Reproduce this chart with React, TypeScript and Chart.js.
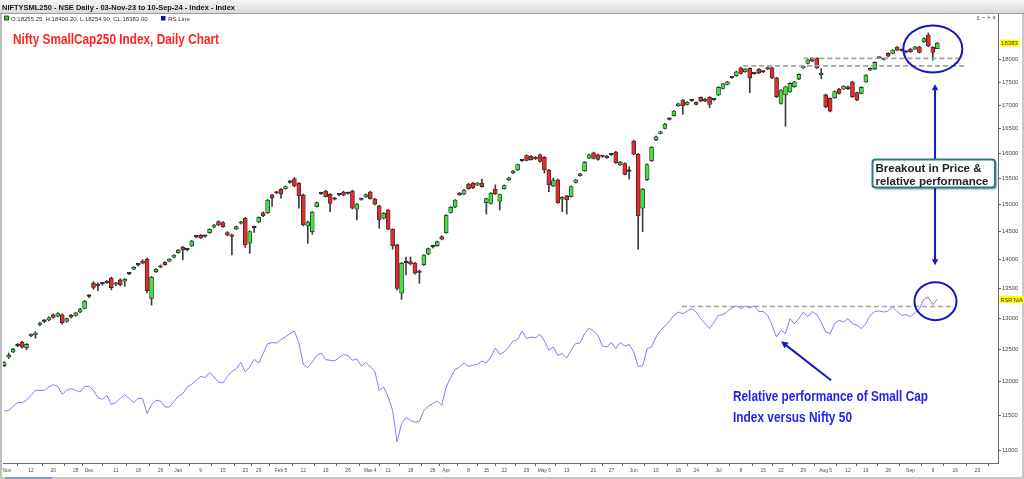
import React, { useEffect, useRef } from 'react';
import { Chart, registerables } from 'chart.js';

Chart.register(...registerables);

// ---------- data (one entry per trading session, 03-Nov-23 .. 10-Sep-24) ----------
const openPrices = [
  12245, 12375, 12456, 12555, 12610, 12525, 12715, 12730, 12895, 12945,
  12970, 13052, 13031, 13052, 12948, 13047, 13042, 13102, 13160, 13360,
  13588, 13571, 13575, 13611, 13670, 13566, 13640, 13618, 13745, 13825,
  13900, 13970, 14000, 13328, 13780, 13883, 13948, 13965, 14036, 14117,
  14213, 14170, 14237, 14400, 14430, 14410, 14478, 14576, 14680, 14661,
  14478, 14430, 14545, 14650, 14742, 14285, 14565, 14673, 14845, 14845,
  15182, 15220, 15292, 15303, 15425, 15494, 15408, 15182, 14600, 14496,
  14960, 15205, 15258, 15196, 15100, 15185, 15239, 15210, 15258, 14910,
  15095, 15145, 15239, 15105, 14973, 14742, 14897, 14539, 14255, 13414,
  13935, 13958, 13930, 13796, 13902, 14094, 14220, 14243, 14405, 14478,
  14852, 14949, 15214, 15195, 15390, 15410, 15370, 15410, 15035, 15019,
  15292, 15061, 15303, 15474, 15609, 15666, 15850, 15955, 15940, 15915,
  15970, 15920, 15666, 15356, 15474, 15099, 15163, 15150, 15421, 15556,
  15653, 15903, 16010, 15970, 15935, 15943, 15970, 16024, 15770, 15796,
  15640, 16249, 15981, 14929, 15474, 15850, 16269, 16406, 16511, 16700,
  16776, 16988, 17109, 17017, 17095, 17060, 17167, 17130, 17167, 17115,
  17221, 17363, 17450, 17600, 17642, 17820, 17731, 17806, 17690, 17791,
  17725, 17820, 17820, 17596, 17036, 17221, 17288, 17400, 17569, 17820,
  17918, 18032, 18032, 17665, 17221, 17146, 17163, 17348, 17348, 17400,
  17507, 17273, 17256, 17507, 17768, 17791, 18040, 18010, 18146, 18146,
  18291, 18215, 18175, 18245, 18245, 18298, 18411, 18570, 18284, 18255.25,
];

const highPrices = [
  12305, 12440, 12515, 12590, 12625, 12590, 12745, 12780, 12935, 12975,
  13020, 13070, 13090, 13070, 13000, 13060, 13095, 13160, 13290, 13390,
  13610, 13590, 13600, 13630, 13690, 13600, 13660, 13665, 13770, 13870,
  13925, 13990, 14020, 13700, 13835, 13900, 13960, 14010, 14085, 14175,
  14230, 14195, 14340, 14425, 14445, 14435, 14550, 14630, 14695, 14680,
  14495, 14450, 14600, 14685, 14760, 14510, 14600, 14770, 14860, 15095,
  15195, 15245, 15305, 15355, 15460, 15520, 15420, 15200, 14690, 14870,
  15045, 15235, 15270, 15210, 15135, 15210, 15255, 15235, 15275, 15020,
  15120, 15200, 15255, 15120, 14985, 14850, 14910, 14550, 14270, 13945,
  14040, 14040, 13945, 13810, 14085, 14200, 14250, 14325, 14420, 14810,
  14960, 15095, 15230, 15290, 15405, 15425, 15420, 15490, 15120, 15225,
  15375, 15200, 15375, 15525, 15660, 15785, 15875, 15970, 15955, 15935,
  15985, 15935, 15680, 15510, 15490, 15150, 15175, 15355, 15485, 15600,
  15835, 15985, 16025, 15985, 15960, 15955, 15995, 16040, 15835, 15810,
  15730, 16270, 16000, 15305, 15790, 16135, 16350, 16455, 16615, 16730,
  16885, 17045, 17125, 17075, 17125, 17075, 17180, 17145, 17185, 17140,
  17400, 17475, 17520, 17625, 17745, 17835, 17805, 17820, 17715, 17805,
  17750, 17840, 17835, 17610, 17340, 17415, 17485, 17520, 17685, 17865,
  18015, 18050, 18045, 17805, 17240, 17160, 17310, 17365, 17425, 17415,
  17520, 17285, 17400, 17670, 17820, 17955, 18065, 18035, 18160, 18235,
  18305, 18240, 18200, 18260, 18310, 18310, 18505, 18620, 18300, 18400.2,
];

const lowPrices = [
  12230, 12355, 12445, 12540, 12515, 12490, 12700, 12675, 12875, 12925,
  12955, 13000, 13020, 12900, 12930, 13000, 13030, 13090, 13150, 13340,
  13480, 13455, 13550, 13580, 13470, 13540, 13540, 13530, 13730, 13815,
  13885, 13920, 13420, 13215, 13770, 13850, 13895, 13955, 14025, 14105,
  13990, 14150, 14225, 14385, 14370, 14395, 14465, 14565, 14605, 14575,
  14420, 14075, 14530, 14635, 14213, 14105, 14480, 14660, 14770, 14830,
  14970, 15205, 15118, 15290, 15410, 15340, 14930, 14600, 14285, 14450,
  14950, 15190, 15140, 14865, 15085, 15165, 15165, 15195, 14915, 14710,
  15080, 15135, 15100, 14990, 14557, 14730, 14530, 14177, 13465, 13310,
  13727, 13900, 13740, 13583, 13890, 14080, 14200, 14230, 14345, 14465,
  14840, 14940, 15175, 15185, 15290, 15300, 15360, 15330, 14822, 15005,
  15190, 14897, 15290, 15460, 15595, 15655, 15835, 15845, 15860, 15875,
  15820, 15610, 15245, 15340, 15020, 14865, 14822, 15140, 15410, 15545,
  15640, 15890, 15885, 15860, 15920, 15895, 15955, 15795, 15755, 15570,
  15490, 15970, 14177, 14496, 15460, 15835, 16255, 16395, 16500, 16685,
  16765, 16975, 16805, 17005, 17080, 17005, 17075, 17075, 16946, 17100,
  17205, 17350, 17440, 17585, 17630, 17680, 17720, 17269, 17675, 17690,
  17710, 17780, 17580, 17165, 17020, 16554, 17275, 17385, 17555, 17805,
  17905, 17960, 17805, 17580, 16940, 16855, 17150, 17240, 17335, 17335,
  17165, 17095, 17240, 17495, 17755, 17780, 18025, 17995, 18070, 18135,
  18210, 18200, 18160, 18170, 18235, 18155, 18400, 18300, 17993, 18254.9,
];

const closePrices = [
  12290, 12405, 12500, 12565, 12530, 12575, 12730, 12762, 12910, 12955,
  13010, 13010, 13075, 12926, 12990, 13015, 13086, 13147, 13278, 13370,
  13514, 13537, 13585, 13594, 13508, 13583, 13554, 13652, 13758, 13860,
  13910, 13930, 13457, 13687, 13825, 13860, 13906, 14000, 14076, 14165,
  14165, 14180, 14326, 14410, 14381, 14420, 14539, 14618, 14618, 14587,
  14430, 14410, 14587, 14668, 14255, 14496, 14575, 14760, 14785, 15086,
  15118, 15230, 15201, 15343, 15435, 15356, 15163, 14617, 14673, 14858,
  15035, 15215, 15150, 15019, 15112, 15192, 15176, 15216, 14929, 15010,
  15100, 15190, 15111, 15005, 14710, 14835, 14539, 14243, 13497, 13930,
  13945, 13919, 13757, 13768, 14076, 14188, 14228, 14314, 14357, 14797,
  14949, 15086, 15188, 15277, 15303, 15316, 15410, 15343, 15111, 15214,
  15201, 15188, 15363, 15514, 15648, 15775, 15860, 15855, 15870, 15890,
  15835, 15666, 15374, 15461, 15035, 15137, 15086, 15343, 15474, 15589,
  15822, 15970, 15897, 15876, 15945, 15910, 15980, 15810, 15822, 15582,
  15650, 15981, 14785, 15292, 15775, 16120, 16337, 16440, 16602, 16710,
  16874, 17030, 16988, 17060, 17105, 17017, 17088, 17088, 17017, 17128,
  17385, 17463, 17507, 17610, 17731, 17695, 17791, 17596, 17700, 17702,
  17735, 17791, 17596, 17180, 17326, 17400, 17472, 17507, 17672, 17852,
  18000, 17970, 17820, 17680, 16962, 16874, 17296, 17256, 17414, 17355,
  17180, 17109, 17385, 17657, 17806, 17941, 18050, 18020, 18084, 18222,
  18222, 18225, 18185, 18183, 18298, 18169, 18490, 18320, 18169, 18383,
];

// relative-strength line, drawn in the price pane's units
const rsLine = [
  11563, 11573, 11632, 11686, 11686, 11720, 11794, 11869, 11869, 11869,
  11918, 11954, 11928, 11808, 11869, 11894, 11869, 11844, 11928, 11928,
  11869, 11756, 11736, 11794, 11657, 11690, 11750, 11804, 11747, 11686,
  11750, 11747, 11526, 11660, 11720, 11710, 11622, 11622, 11700, 11780,
  11820, 11918, 11960, 12018, 12079, 12060, 12141, 12070, 11990, 11980,
  12079, 12156, 12197, 12295, 12146, 12223, 12341, 12285, 12431, 12589,
  12605, 12598, 12652, 12694, 12748, 12790, 12598, 12264, 12213, 12300,
  12404, 12440, 12336, 12326, 12316, 12367, 12416, 12400, 12326, 12352,
  12234, 12295, 12223, 12161, 11869, 11918, 11770, 11573, 11119, 11380,
  11466, 11427, 11402, 11412, 11573, 11632, 11672, 11710, 11647, 11918,
  12060, 12182, 12223, 12285, 12234, 12249, 12264, 12316, 12285, 12378,
  12517, 12421, 12457, 12535, 12630, 12652, 12790, 12668, 12694, 12684,
  12738, 12630, 12483, 12535, 12404, 12431, 12362, 12483, 12589, 12598,
  12748, 12834, 12790, 12722, 12546, 12535, 12605, 12508, 12605, 12550,
  12576, 12457, 12234, 12240, 12508, 12535, 12694, 12800, 12870, 12950,
  13046, 13099, 13072, 13117, 13156, 13099, 12991, 12910, 12829, 12935,
  13046, 13056, 13108, 13166, 13200, 13156, 13200, 13166, 13200, 13108,
  13108, 13046, 12883, 12694, 12801, 12748, 12991, 12910, 12991, 13099,
  13020, 13108, 13056, 12935, 12774, 12748, 12910, 12964, 12935, 12991,
  12910, 12883, 12829, 12910, 13046, 13108, 13117, 13099, 13117, 13183,
  13108, 13046, 13056, 13020, 13090, 13156, 13311, 13350, 13222, 13311,
];

// x-axis: session index -> label
const xTickIndex = [0, 6, 11, 16, 19, 25, 30, 35, 39, 44, 49, 54, 57, 62, 67, 72, 77, 82, 86, 91, 96, 99, 104, 108, 112, 117, 121, 126, 132, 136, 141, 146, 151, 155, 160, 165, 170, 174, 179, 184, 189, 193, 198, 203, 208, 213, 218];
const xTickLabels = ['Nov', '12', '20', '28', 'Dec', '11', '18', '26', 'Jan', '9', '15', '23', '29', 'Feb 5', '12', '19', '26', 'Mar 4', '11', '18', '26', 'Apr', '8', '15', '22', '29', 'May 6', '13', '21', '27', 'Jun', '10', '18', '24', 'Jul', '8', '15', '22', '29', 'Aug 5', '12', '19', '26', 'Sep', '9', '16', '23'];
const yTickValues = [11000, 11500, 12000, 12500, 13000, 13500, 14000, 14500, 15000, 15500, 16000, 16500, 17000, 17500, 18000];

// annotation anchors (session index / value)
const priceLevels = [
  { value: 18032, from: 179.0, to: 214.7 },
  { value: 17864, from: 165.5, to: 215.0 },
];
const rsLevels = [{ value: 13190, from: 151.8, to: 212.6 }];
const highlightRings = [
  { at: 208.0, value: 18250, rx: 29.5, ry: 23.5 },
  { at: 208.6, value: 13280, rx: 21, ry: 19 },
];
const breakoutArrow = { at: 208.5, top: 17457, bottom: 13896 };
const rsArrow = { fromAt: 185.2, fromValue: 12020, toAt: 174.0, toValue: 12625 };

const X_MIN = -0.27;
const X_MAX = 222.6;
const Y_MIN = 10830;
const Y_MAX = 19070;

const FONT = '"Liberation Sans", Arial, Helvetica, sans-serif';

function fitText(ctx: any, text: string, x: number, y: number, w: number, font: string, color: string) {
  ctx.save();
  ctx.font = font;
  ctx.fillStyle = color;
  ctx.textAlign = 'left';
  ctx.textBaseline = 'alphabetic';
  const m = ctx.measureText(text).width || 1;
  ctx.translate(x, y);
  ctx.scale(w / m, 1);
  ctx.fillText(text, 0, 0);
  ctx.restore();
}

function arrowHead(ctx: any, x: number, y: number, ang: number, len: number, half: number) {
  ctx.beginPath();
  ctx.moveTo(x, y);
  ctx.lineTo(x - len * Math.cos(ang) + half * Math.sin(ang), y - len * Math.sin(ang) - half * Math.cos(ang));
  ctx.lineTo(x - len * Math.cos(ang) - half * Math.sin(ang), y - len * Math.sin(ang) + half * Math.cos(ang));
  ctx.closePath();
  ctx.fill();
}

const overlayPlugin = {
  id: 'overlay',
  beforeDraw(chart: any) {
    const { ctx, width, height } = chart;
    ctx.save();
    ctx.fillStyle = '#ffffff';
    ctx.fillRect(0, 0, width, height);
    ctx.restore();
  },
  afterDatasetsDraw(chart: any) {
    const { ctx } = chart;
    const xs = chart.scales.x;
    const ys = chart.scales.y;
    ctx.save();
    // dashed resistance lines
    ctx.setLineDash([5, 3]);
    ctx.strokeStyle = '#a2a2a2';
    ctx.lineWidth = 1.6;
    [...priceLevels, ...rsLevels].forEach((l) => {
      const y = ys.getPixelForValue(l.value);
      ctx.beginPath();
      ctx.moveTo(xs.getPixelForValue(l.from), y);
      ctx.lineTo(xs.getPixelForValue(l.to), y);
      ctx.stroke();
    });
    ctx.setLineDash([]);

    // rings
    ctx.strokeStyle = '#1616c8';
    ctx.lineWidth = 2;
    highlightRings.forEach((r) => {
      ctx.beginPath();
      ctx.ellipse(xs.getPixelForValue(r.at), ys.getPixelForValue(r.value), r.rx, r.ry, 0, 0, Math.PI * 2);
      ctx.stroke();
    });

    // vertical double arrow
    ctx.fillStyle = '#1616c8';
    const ax = xs.getPixelForValue(breakoutArrow.at);
    const ay1 = ys.getPixelForValue(breakoutArrow.top);
    const ay2 = ys.getPixelForValue(breakoutArrow.bottom);
    ctx.beginPath();
    ctx.moveTo(ax, ay1 + 5);
    ctx.lineTo(ax, ay2 - 5);
    ctx.stroke();
    arrowHead(ctx, ax, ay1, -Math.PI / 2, 6, 3.2);
    arrowHead(ctx, ax, ay2, Math.PI / 2, 6, 3.2);

    // diagonal arrow to RS dip
    const fx = xs.getPixelForValue(rsArrow.fromAt);
    const fy = ys.getPixelForValue(rsArrow.fromValue);
    const tx = xs.getPixelForValue(rsArrow.toAt);
    const ty = ys.getPixelForValue(rsArrow.toValue);
    const ang = Math.atan2(ty - fy, tx - fx);
    ctx.beginPath();
    ctx.moveTo(fx, fy);
    ctx.lineTo(tx - Math.cos(ang) * 5, ty - Math.sin(ang) * 5);
    ctx.stroke();
    arrowHead(ctx, tx, ty, ang, 7, 3.5);

    // breakout call-out box
    const bx = 872.5, by = 159.5, bw = 122.5, bh = 28, rr = 3;
    ctx.save();
    ctx.shadowColor = 'rgba(0,0,0,0.35)';
    ctx.shadowOffsetX = 2;
    ctx.shadowOffsetY = 2;
    ctx.shadowBlur = 2;
    ctx.beginPath();
    ctx.moveTo(bx + rr, by);
    ctx.lineTo(bx + bw - rr, by);
    ctx.quadraticCurveTo(bx + bw, by, bx + bw, by + rr);
    ctx.lineTo(bx + bw, by + bh - rr);
    ctx.quadraticCurveTo(bx + bw, by + bh, bx + bw - rr, by + bh);
    ctx.lineTo(bx + rr, by + bh);
    ctx.quadraticCurveTo(bx, by + bh, bx, by + bh - rr);
    ctx.lineTo(bx, by + rr);
    ctx.quadraticCurveTo(bx, by, bx + rr, by);
    ctx.closePath();
    ctx.fillStyle = '#ffffff';
    ctx.fill();
    ctx.restore();
    ctx.strokeStyle = '#2c7b7b';
    ctx.lineWidth = 2;
    ctx.stroke();
    fitText(ctx, 'Breakout in Price &', 875.5, 171.5, 106, `bold 11px ${FONT}`, '#222222');
    fitText(ctx, 'relative performance', 875.5, 185, 113, `bold 11px ${FONT}`, '#222222');

    // RS note
    fitText(ctx, 'Relative performance of Small Cap', 733, 401, 195, `bold 14px ${FONT}`, '#2323f0');
    fitText(ctx, 'Index versus Nifty 50', 733, 422, 119, `bold 14px ${FONT}`, '#2323f0');
    ctx.restore();
  },
  afterDraw(chart: any) {
    const { ctx, width, height } = chart;
    const xs = chart.scales.x;
    const ys = chart.scales.y;
    const n = closePrices.length;
    ctx.save();
    // title bar
    const g = ctx.createLinearGradient(0, 0, 0, 13);
    g.addColorStop(0, '#f6f6f6');
    g.addColorStop(1, '#d9d9d9');
    ctx.fillStyle = g;
    ctx.fillRect(0, 0, width, 13);
    ctx.fillStyle = '#9c9c9c';
    ctx.fillRect(0, 13, width, 1);
    fitText(ctx, 'NIFTYSML250 - NSE Daily - 03-Nov-23 to 10-Sep-24 - Index - Index', 2, 10, 233, `bold 8px ${FONT}`, '#141414');

    // frame strips
    ctx.fillStyle = '#bdbdbd';
    ctx.fillRect(0, 14, 2, height - 14);
    ctx.fillStyle = '#c8c8c8';
    ctx.fillRect(0, height - 2, width, 2);
    ctx.fillRect(width - 2, 14, 2, height - 14);
    ctx.fillStyle = '#8d9cc4';
    ctx.fillRect(5, height - 2, 47, 2);

    // x-axis labels (slightly condensed, first one kept inside the pane)
    const lf = `6px ${FONT}`;
    ctx.font = lf;
    xTickIndex.forEach((v, k) => {
      const t = xTickLabels[k];
      const w = ctx.measureText(t).width * 0.82;
      const cx = xs.getPixelForValue(v);
      const left = Math.max(2.5, cx - w / 2);
      fitText(ctx, t, left, 472.3, w, lf, '#4a4a4a');
      ctx.font = lf;
    });

    // legend row
    const fmt = (v: number) => v.toFixed(2);
    ctx.fillStyle = '#2fd12f';
    ctx.fillRect(4.5, 16, 4, 4);
    ctx.strokeStyle = '#222';
    ctx.lineWidth = 0.8;
    ctx.strokeRect(4.5, 16, 4, 4);
    fitText(ctx, `O:${fmt(openPrices[n - 1])}, H:${fmt(highPrices[n - 1])}, L:${fmt(lowPrices[n - 1])}, CL:${fmt(closePrices[n - 1])}`, 11, 20.7, 136.5, `6px ${FONT}`, '#333');
    ctx.fillStyle = '#0b0bc4';
    ctx.fillRect(161, 16, 4.5, 4.5);
    fitText(ctx, 'RS Line', 168, 20.7, 22, `6px ${FONT}`, '#333');

    // chart title
    fitText(ctx, 'Nifty SmallCap250 Index, Daily Chart', 13, 44, 206, `bold 15px ${FONT}`, '#ff2424');

    // window icons
    fitText(ctx, '\u03b5 \u2212 + \u00d7', 977, 20, 19, `7px ${FONT}`, '#444');

    // last value flags on the axis
    const yl = ys.getPixelForValue(closePrices[n - 1]);
    ctx.fillStyle = '#ffff00';
    ctx.fillRect(1000, yl - 3.5, 19.5, 7);
    fitText(ctx, String(Math.round(closePrices[n - 1])), 1001, yl + 2.2, 17, `6px ${FONT}`, '#333');
    const yr = ys.getPixelForValue(rsLine[n - 1]);
    ctx.fillStyle = '#ffff00';
    ctx.fillRect(999.5, yr - 3.5, 24.5, 7);
    fitText(ctx, 'RSR N/A', 1000.5, yr + 2.2, 22.5, `6px ${FONT}`, '#333');
    ctx.restore();
  },
};

export default function App() {
  const ref = useRef<HTMLCanvasElement | null>(null);

  useEffect(() => {
    document.body.style.margin = '0';
    const n = closePrices.length;
    const idx = Array.from({ length: n }, (_, i) => i);
    const wickData = idx.map((i) => ({ x: i, y: [lowPrices[i], highPrices[i]] }));
    const bodyData = idx.map((i) => ({ x: i, y: [Math.min(openPrices[i], closePrices[i]), Math.max(openPrices[i], closePrices[i])] }));
    const bodyColors = idx.map((i) =>
      Math.abs(closePrices[i] - openPrices[i]) < 15 ? '#2a2a2a' : closePrices[i] >= openPrices[i] ? '#3fe23f' : '#e62a2a'
    );
    const rsData = idx.map((i) => ({ x: i, y: rsLine[i] }));
    const tickFont = { size: 5.8, family: FONT };

    const chart = new Chart(ref.current as HTMLCanvasElement, {
      type: 'bar',
      data: {
        datasets: [
          {
            type: 'bar',
            label: 'body',
            data: bodyData as any,
            backgroundColor: bodyColors,
            borderColor: '#2a2a2a',
            borderWidth: 0.8,
            borderSkipped: false,
            barThickness: 4,
            maxBarThickness: 4,
            minBarLength: 1.5,
            grouped: false,
            order: 0,
          } as any,
          {
            type: 'bar',
            label: 'wick',
            data: wickData as any,
            backgroundColor: '#3c3c3c',
            borderWidth: 0,
            barThickness: 1,
            maxBarThickness: 1,
            grouped: false,
            order: 1,
          } as any,
          {
            type: 'line',
            label: 'RS Line',
            data: rsData as any,
            borderColor: '#7d7dff',
            borderWidth: 1,
            pointRadius: 0,
            tension: 0,
            order: 2,
          } as any,
        ],
      },
      options: {
        responsive: false,
        animation: false,
        events: [],
        layout: { padding: { left: 3, top: 14, right: 0, bottom: 0 } },
        plugins: { legend: { display: false }, tooltip: { enabled: false }, title: { display: false } },
        scales: {
          x: {
            type: 'linear',
            min: X_MIN,
            max: X_MAX,
            bounds: 'data',
            offset: false,
            afterBuildTicks: (scale: any) => {
              scale.ticks = xTickIndex.map((v) => ({ value: v }));
            },
            afterFit: (scale: any) => {
              scale.height = 16;
              scale.paddingLeft = 0;
              scale.paddingRight = 0;
            },
            grid: { display: true, drawOnChartArea: false, drawTicks: true, tickLength: 3, color: '#666666' },
            border: { display: true, color: '#6a6a6a', width: 1 },
            ticks: { display: false, autoSkip: false, maxRotation: 0, minRotation: 0 },
          },
          y: {
            type: 'logarithmic',
            position: 'right',
            min: Y_MIN,
            max: Y_MAX,
            bounds: 'data',
            afterBuildTicks: (scale: any) => {
              scale.ticks = yTickValues.map((v) => ({ value: v }));
            },
            afterFit: (scale: any) => {
              scale.width = 26;
              scale.paddingTop = 0;
              scale.paddingBottom = 0;
            },
            grid: { display: true, drawOnChartArea: false, drawTicks: true, tickLength: 3, color: '#666666' },
            border: { display: true, color: '#6a6a6a', width: 1 },
            ticks: {
              autoSkip: false,
              padding: 1,
              color: '#444444',
              font: tickFont,
              callback: (v: any) => String(v),
            },
          },
        },
      } as any,
      plugins: [overlayPlugin],
    });
    return () => chart.destroy();
  }, []);

  return (
    <div style={{ position: 'fixed', left: 0, top: 0, width: 1024, height: 479, overflow: 'hidden', background: '#ffffff' }}>
      <canvas ref={ref} width={1024} height={479} style={{ display: 'block', width: 1024, height: 479 }} />
    </div>
  );
}
